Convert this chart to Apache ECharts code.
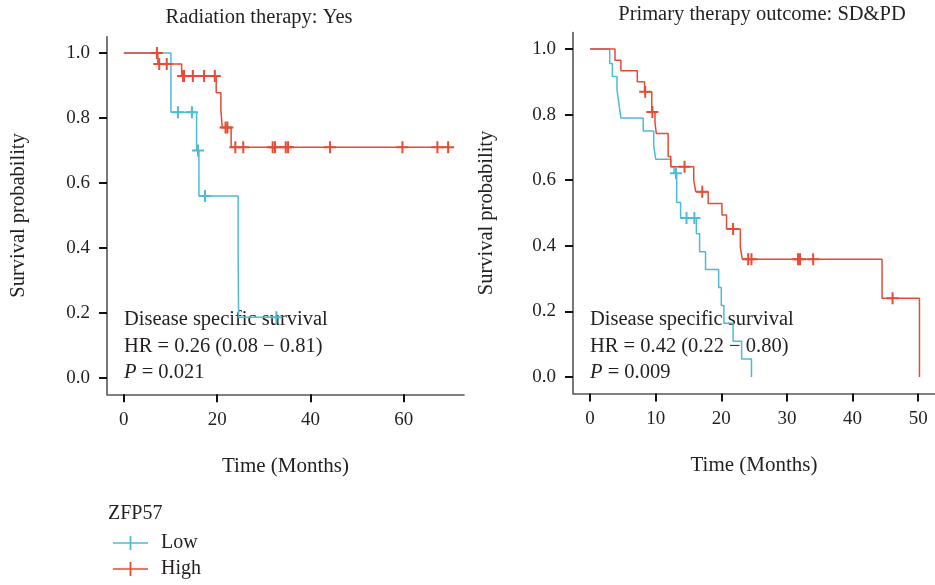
<!DOCTYPE html>
<html>
<head>
<meta charset="utf-8">
<script src="https://cdn.jsdelivr.net/npm/echarts@6/dist/echarts.min.js"></script>
<style>
  html, body { margin: 0; padding: 0; background: #fff; }
  #chart { width: 935px; height: 585px; }
</style>
</head>
<body>
<div id="chart"></div>
<script>
// Radiation therapy: Yes
const leftLowTime = [0, 10.1, 15.6, 16.1, 24.5, 24.6, 32.7];
const leftLowSurv = [1, 0.818, 0.70, 0.56, 0.374, 0.187, 0.187];
const leftLowCensor = [11.6, 14.6, 15.9, 17.4, 32.7];

const leftHighTime = [0, 7.3, 12.4, 19.8, 20.8, 21.1, 23.0, 69.5];
const leftHighSurv = [1, 0.966, 0.929, 0.878, 0.825, 0.771, 0.71, 0.71];
const leftHighCensor = [7.1, 7.6, 9.2, 12.7, 12.9, 14.8, 17.2, 19.5, 21.8, 22.2,
  23.9, 25.6, 31.9, 32.4, 34.7, 35.2, 44.2, 59.7, 67.2, 69.5];

// Primary therapy outcome: SD&PD
const rightLowTime = [0, 3.0, 3.4, 4.1, 4.4, 4.7, 8.1, 9.7, 10.0, 12.3, 12.8, 13.2, 13.8,
  16.2, 16.7, 17.6, 19.6, 20.0, 20.4, 21.8, 23.1, 24.6];
const rightLowSurv = [1, 0.956, 0.916, 0.875, 0.833, 0.79, 0.75, 0.706, 0.664, 0.641, 0.621, 0.532, 0.485,
  0.437, 0.382, 0.328, 0.273, 0.218, 0.164, 0.109, 0.055, 0];
const rightLowCensor = [13.1, 14.7, 15.9];

const rightHighTime = [0, 3.8, 4.7, 7.2, 8.3, 9.4, 9.9, 10.1, 11.9, 12.3, 15.8, 16.1, 18.0,
  20.1, 20.8, 22.9, 23.2, 44.5, 50.2];
const rightHighSurv = [1, 0.966, 0.934, 0.90, 0.87, 0.808, 0.773, 0.742, 0.672, 0.641, 0.60, 0.565, 0.529,
  0.494, 0.451, 0.397, 0.359, 0.24, 0];
const rightHighCensor = [8.4, 9.5, 14.4, 17.1, 21.8, 24.1, 24.6, 31.7, 32.0, 34.0, 46.1];

const leftXTicks = [0, 20, 40, 60];
const rightXTicks = [0, 10, 20, 30, 40, 50];
const yTicks = [0, 0.2, 0.4, 0.6, 0.8, 1.0];

const lowColor = "#4DBBD5";
const highColor = "#E64B35";
const fontFam = '"Liberation Serif", "DejaVu Serif", serif';
const txtColor = "#231f20";

// survival value at time t (step function)
function survAt(times, surv, t) {
  let s = surv[0];
  for (let i = 0; i < times.length; i++) {
    if (times[i] <= t) s = surv[i];
  }
  return s;
}
const pairs = (times, surv) => times.map((t, i) => [t, surv[i]]);
const censorPts = (times, surv, cens) => cens.map((t) => [t, survAt(times, surv, t)]);

const crossSymbol = "path://M5,0H7V5H12V7H7V12H5V7H0V5H5Z";
const legendIcon = "path://M0,6.2H35V7.8H0Z M16.6,0H18.4V14H16.6Z";

const xAxisBase = (idx, min, max, ticks) => ({
  type: "value",
  gridIndex: idx,
  min: min,
  max: max,
  name: "Time (Months)",
  nameLocation: "middle",
  nameGap: 62,
  nameTextStyle: { fontFamily: fontFam, fontSize: 21, color: txtColor },
  splitLine: { show: false },
  axisLine: { show: true, onZero: false, lineStyle: { color: "#555", width: 1.6 } },
  axisTick: { show: true, length: 8, customValues: ticks, lineStyle: { color: "#111", width: 2 } },
  axisLabel: {
    customValues: ticks,
    margin: 16,
    fontFamily: fontFam,
    fontSize: 19,
    color: txtColor,
  },
});

const yAxisBase = (idx, gap) => ({
  type: "value",
  gridIndex: idx,
  min: -0.05,
  max: 1.05,
  name: "Survival probability",
  nameLocation: "middle",
  nameGap: gap,
  nameTextStyle: { fontFamily: fontFam, fontSize: 20.5, color: txtColor },
  splitLine: { show: false },
  axisLine: { show: true, onZero: false, lineStyle: { color: "#555", width: 1.6 } },
  axisTick: { show: true, length: 8, customValues: yTicks, lineStyle: { color: "#111", width: 2 } },
  axisLabel: {
    customValues: yTicks,
    margin: 17,
    fontFamily: fontFam,
    fontSize: 19,
    color: txtColor,
    formatter: (v) => v.toFixed(1),
  },
});

const lineSeries = (name, color, idx, data) => ({
  name: name,
  type: "line",
  step: "end",
  xAxisIndex: idx,
  yAxisIndex: idx,
  symbol: "none",
  showSymbol: false,
  lineStyle: { color: color, width: 1.5 },
  itemStyle: { color: color },
  data: data,
  z: name === "High" ? 3 : 2,
});

const censorSeries = (name, color, idx, data) => ({
  name: name,
  type: "scatter",
  xAxisIndex: idx,
  yAxisIndex: idx,
  symbol: crossSymbol,
  symbolSize: 12,
  itemStyle: { color: color, opacity: 1 },
  data: data,
  z: name === "High" ? 5 : 4,
});

const annotation = (x, hr, p) => [
  { type: "text", x: x, y: 320, style: { text: "Disease specific survival", fontFamily: fontFam, fontSize: 20.5, fill: txtColor, verticalAlign: "middle" } },
  { type: "text", x: x, y: 347, style: { text: hr, fontFamily: fontFam, fontSize: 20.5, fill: txtColor, verticalAlign: "middle" } },
  {
    type: "text", x: x, y: 373,
    style: {
      text: "{i|P} = " + p,
      fontFamily: fontFam, fontSize: 20.5, fill: txtColor, verticalAlign: "middle",
      rich: { i: { fontFamily: fontFam, fontSize: 20.5, fontStyle: "italic", color: txtColor } },
    },
  },
];

const chart = echarts.init(document.getElementById("chart"), null, { renderer: "canvas" });

const option = {
  animation: false,
  backgroundColor: "#fff",
  grid: [
    { left: 107, top: 36.75, width: 357, height: 357.5 },
    { left: 573, top: 32.6, width: 363, height: 360.8 },
  ],
  xAxis: [
    xAxisBase(0, -3.6, 72.9, leftXTicks),
    xAxisBase(1, -2.6, 52.57, rightXTicks),
  ],
  yAxis: [yAxisBase(0, 78), yAxisBase(1, 76)],
  legend: {
    data: ["Low", "High"],
    orient: "vertical",
    left: 108,
    top: 528,
    height: 57,
    icon: legendIcon,
    itemWidth: 35,
    itemHeight: 14,
    itemGap: 6,
    textStyle: { fontFamily: fontFam, fontSize: 20, color: txtColor, padding: [0, 0, 0, 8] },
  },
  graphic: [
    { type: "text", x: 259, y: 18, style: { text: "Radiation therapy: Yes", fontFamily: fontFam, fontSize: 20.5, fill: txtColor, align: "center", verticalAlign: "middle" } },
    { type: "text", x: 762, y: 15, style: { text: "Primary therapy outcome: SD&PD", fontFamily: fontFam, fontSize: 20.5, fill: txtColor, align: "center", verticalAlign: "middle" } },
    { type: "text", x: 108, y: 514, style: { text: "ZFP57", font: '20px "Liberation Serif", serif', fill: txtColor, verticalAlign: "middle" } },
    ...annotation(124, "HR = 0.26 (0.08 \u2212 0.81)", "0.021"),
    ...annotation(590, "HR = 0.42 (0.22 \u2212 0.80)", "0.009"),
  ],
  series: [
    lineSeries("Low", lowColor, 0, pairs(leftLowTime, leftLowSurv)),
    lineSeries("High", highColor, 0, pairs(leftHighTime, leftHighSurv)),
    censorSeries("Low", lowColor, 0, censorPts(leftLowTime, leftLowSurv, leftLowCensor)),
    censorSeries("High", highColor, 0, censorPts(leftHighTime, leftHighSurv, leftHighCensor)),
    lineSeries("Low", lowColor, 1, pairs(rightLowTime, rightLowSurv)),
    lineSeries("High", highColor, 1, pairs(rightHighTime, rightHighSurv)),
    censorSeries("Low", lowColor, 1, censorPts(rightLowTime, rightLowSurv, rightLowCensor)),
    censorSeries("High", highColor, 1, censorPts(rightHighTime, rightHighSurv, rightHighCensor)),
  ],
};

chart.setOption(option);
</script>
</body>
</html>
